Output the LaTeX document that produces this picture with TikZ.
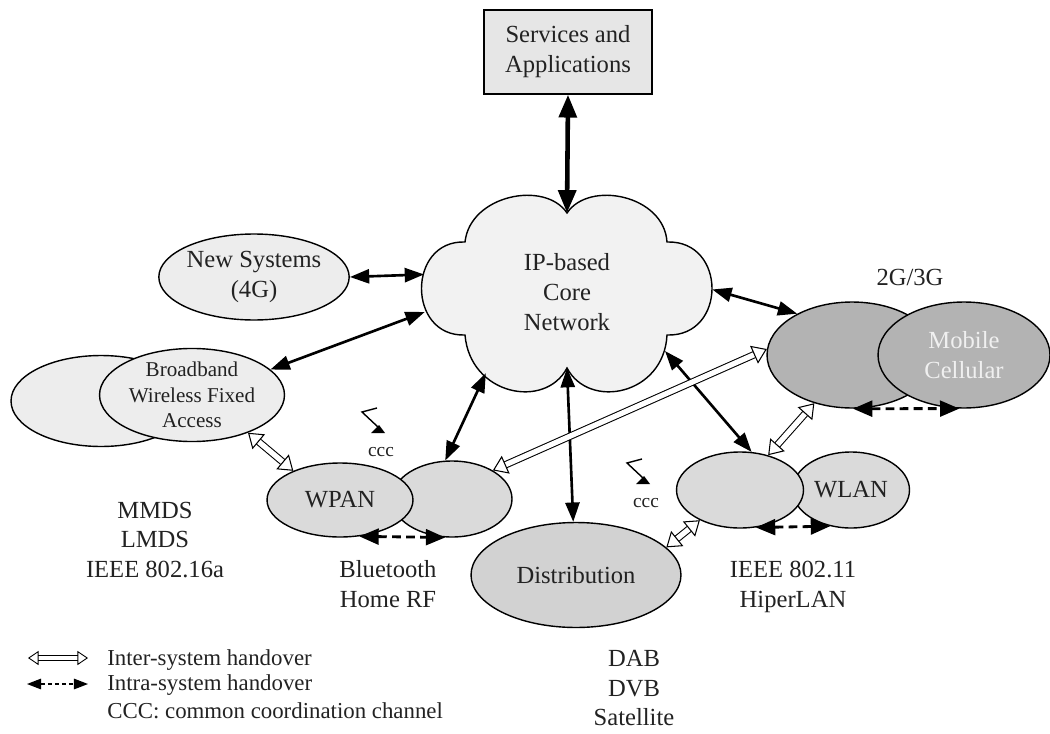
\documentclass[tikz,border=0pt]{standalone}
\usepackage{fontspec}
\setmainfont{Liberation Serif}
\usetikzlibrary{shapes.geometric, arrows.meta, positioning, calc}

\definecolor{txtgray}{HTML}{222222}
\definecolor{boxgray}{HTML}{E6E6E6}
\definecolor{cloudgray}{HTML}{F2F2F2}
\definecolor{lightnet}{HTML}{EDEDED}
\definecolor{midnet}{HTML}{DADADA}
\definecolor{distgray}{HTML}{D2D2D2}
\definecolor{darknet}{HTML}{B3B3B3}

\begin{document}
\begin{tikzpicture}[x=0.02cm, y=-0.02cm, font=\fontsize{14}{17}\selectfont, text=txtgray,
  net/.style={draw, ellipse, line width=0.8pt, inner sep=0pt, align=center},
  link/.style={{Triangle[length=11pt,width=8pt]}-{Triangle[length=11pt,width=8pt]}, line width=1.5pt},
  inter/.style={double, double distance=3pt, line width=0.6pt, {Triangle[open,length=8pt,width=11pt]}-{Triangle[open,length=8pt,width=11pt]}},
  intra/.style={{Triangle[length=11pt,width=9pt]}-{Triangle[length=11pt,width=9pt]}, line width=1.6pt, dash pattern=on 5pt off 3pt}]
\useasboundingbox (0,0) rectangle (1050,733);

% Services
\node[draw, rectangle, fill=boxgray, line width=0.8pt, minimum width=3.36cm, minimum height=1.68cm, align=center] (svc) at (568,52) {Services and\\Applications};

% Core cloud (notches as coordinates)
\coordinate (coretop) at (567,213);
\coordinate (corenr) at (667,242);
\coordinate (coresr) at (667,335);
\coordinate (corebot) at (567,368);
\coordinate (coresl) at (465,335);
\coordinate (corenl) at (465,242);
\coordinate (corese) at (665,351);
\draw[fill=cloudgray, line width=0.8pt] (corenl) .. controls (470,195) and (545,180) .. (coretop)
  .. controls (589,180) and (664,195) .. (corenr)
  .. controls (727,240) and (727,337) .. (coresr)
  .. controls (664,395) and (589,410) .. (corebot)
  .. controls (545,410) and (470,395) .. (coresl)
  .. controls (407,337) and (407,240) .. (corenl) -- cycle;
\node[ellipse, inner sep=0pt, minimum width=5.8cm, minimum height=3.9cm, align=center] (core) at (567,292) {IP-based\\Core\\Network};

% Access systems
\node[net, fill=lightnet, minimum width=3.6cm, minimum height=1.72cm] (newsys) at (254,277) {New Systems\\(4G)};
\node[net, fill=lightnet, minimum width=3.6cm, minimum height=1.82cm] (bbwback) at (101,401) {};
\node[net, fill=lightnet, minimum width=3.7cm, minimum height=1.82cm, font=\fontsize{12}{14.5}\selectfont] (bbw) at (192,395) {Broadband\\Wireless Fixed\\Access};
\node[net, fill=midnet, minimum width=2.4cm, minimum height=1.52cm] (wpanr) at (452,499) {};
\node[net, fill=midnet, minimum width=2.92cm, minimum height=1.48cm] (wpan) at (340,500) {WPAN};
\node[net, fill=distgray, minimum width=4.2cm, minimum height=2.1cm] (dist) at (576,575) {Distribution};
\node[net, fill=midnet, minimum width=2.34cm, minimum height=1.52cm] (wlan) at (851,490) {WLAN};
\node[net, fill=midnet, minimum width=2.54cm, minimum height=1.52cm] (wlanl) at (740,490) {};
\node[net, fill=darknet, minimum width=3.4cm, minimum height=2.12cm] (cell) at (852,355) {};
\node[net, fill=darknet, minimum width=3.44cm, minimum height=2.12cm, text=white!94!black] (mobile) at (964,355) {Mobile\\Cellular};

% Links to the core
\draw[link, line width=2.6pt, {Triangle[length=13pt,width=10pt]}-{Triangle[length=13pt,width=10pt]}] (svc.south) -- (coretop);
\draw[link] (newsys.east) -- (core.173);
\draw[link] (bbw.18) -- (core.188);
\draw[link] (core.225) -- (wpanr.100);
\draw[link] (corebot) -- (dist.93);
\draw[link] (corese) -- (wlanl.73);
\draw[link] (core.1) -- (cell.143);

% Handovers
\draw[inter] (bbw.326) -- (wpan.148);
\draw[inter] (wpanr.35) -- (cell.176);
\draw[inter] (dist.17) -- (wlanl.217);
\draw[inter] (cell.232) -- (wlanl.51);
\draw[intra] (wpan.-62) -- (wpanr.-100);
\draw[intra] (wlanl.-67) -- (wlan.-120);
\draw[intra] (cell.-89) -- (mobile.-95);

% ccc symbols
\foreach \dx/\dy in {0/0, 265/51} {
  \begin{scope}[shift={(\dx,\dy)}]
    \draw[line width=0.8pt] (377,408) -- (362,412) -- (378,427);
    \fill (371,433) -- (385,433) -- (379,425) -- cycle;
    \node[font=\fontsize{11}{13}\selectfont] at (381,452) {ccc};
  \end{scope}
}

% Annotations
\node[align=center] (bbwlbl) at (155,540) {MMDS\\LMDS\\IEEE 802.16a};
\node[align=center] (wpanlbl) at (388,584) {Bluetooth\\Home RF};
\node[align=center] (distlbl) at (634,688) {DAB\\DVB\\Satellite};
\node[align=center] (wlanlbl) at (793,587) {IEEE 802.11\\HiperLAN};
\node (celllbl) at (910,277) {2G/3G};

% Legend
\coordinate (intera) at (28,658);
\coordinate (interb) at (88,658);
\coordinate (intraa) at (27,684);
\coordinate (intrab) at (88,684);
\draw[inter, double distance=2.4pt, line width=0.5pt, {Triangle[open,length=6pt,width=8pt]}-{Triangle[open,length=6pt,width=8pt]}] (intera) -- (interb);
\draw[intra, line width=0.7pt, dash pattern=on 2.5pt off 1.5pt, {Triangle[length=8pt,width=6pt]}-{Triangle[length=8pt,width=6pt]}] (intraa) -- (intrab);
\begin{scope}[every node/.style={anchor=west, inner sep=0pt, font=\fontsize{13}{15}\selectfont}]
  \node (interlbl) at (107,660) {Inter-system handover};
  \node (intralbl) at (107,685) {Intra-system handover};
  \node (ccclbl) at (107,711) {CCC: common coordination channel};
\end{scope}
\end{tikzpicture}
\end{document}
